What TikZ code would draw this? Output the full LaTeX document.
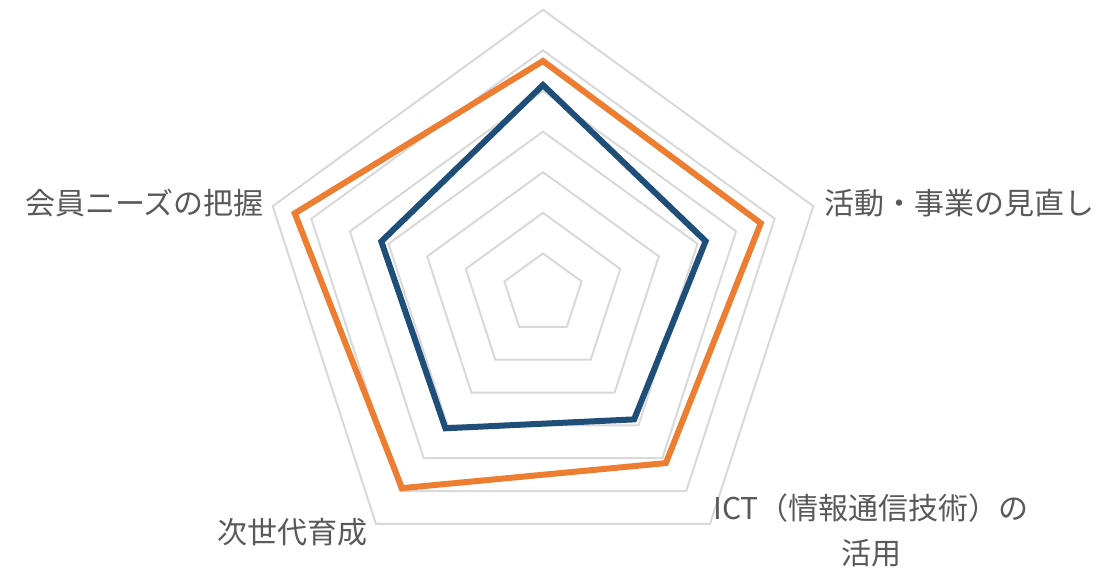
\documentclass[tikz,border=0pt]{standalone}
\usepackage{fontspec}
\usepackage{xcolor}
\usepackage{tikz}
\newfontfamily\jpfont{Noto Sans CJK JP}
\definecolor{gridgray}{RGB}{217,217,217}
\definecolor{labelgray}{RGB}{89,89,89}
\definecolor{seriesorange}{RGB}{237,125,49}
\definecolor{seriesblue}{RGB}{31,78,121}
\tikzset{
    gridline/.style={draw=gridgray, line width=1pt},
    seriesline/.style={line width=3pt},
    axislabel/.style={text=labelgray, font=\jpfont\fontsize{15}{22.5}\selectfont, inner sep=0pt}
}

\begin{document}
\begin{tikzpicture}[x=0.5pt,y=0.5pt]
    \useasboundingbox (0,0) rectangle (1108,571);
    \begin{scope}[shift={(543,277)}]
        \foreach \k in {1,...,7} {
            \pgfmathsetmacro\rr{40.6*\k}
            \draw[gridline] (90:\rr) -- (162:\rr) -- (234:\rr) -- (306:\rr) -- (18:\rr) -- cycle;
        }
        \foreach \i/\r in {0/233, 1/261, 2/240, 3/209, 4/229} {
            \coordinate (o\i) at ({90+72*\i}:\r);
        }
        \foreach \i/\r in {0/209, 1/170, 2/166, 3/155, 4/171} {
            \coordinate (b\i) at ({90+72*\i}:\r);
        }
        \draw[seriesline, seriesblue] (b0) -- (b1) -- (b2) -- (b3) -- (b4) -- cycle;
        \draw[seriesline, seriesorange] (o0) -- (o1) -- (o2) -- (o3) -- (o4) -- cycle;
    \end{scope}
    \node[axislabel, anchor=east] (needs) at (264,368) {会員ニーズの把握};
    \node[axislabel, anchor=west] (review) at (824,368) {活動・事業の見直し};
    \node[axislabel, align=center] (ict) at (871,41) {ICT（情報通信技術）の\\活用};
    \node[axislabel] (nextgen) at (292,39) {次世代育成};
\end{tikzpicture}
\end{document}
